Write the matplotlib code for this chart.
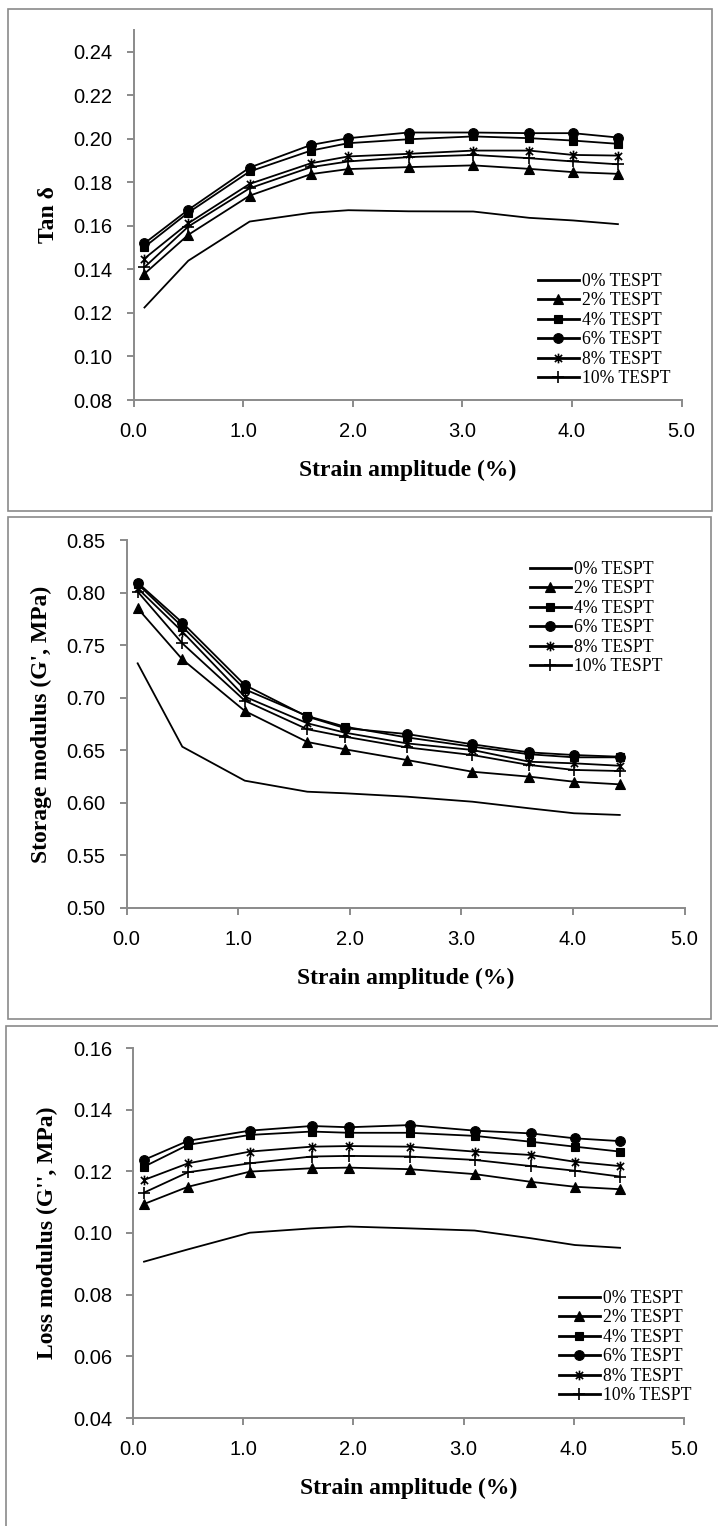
import matplotlib
matplotlib.use("Agg")
import matplotlib.pyplot as plt
from matplotlib.patches import Rectangle
from matplotlib.path import Path

# ---------------- data ----------------
strain = [0.10, 0.50, 1.06, 1.62, 1.96, 2.51, 3.10, 3.61, 4.01, 4.42]
series_labels = ["0% TESPT", "2% TESPT", "4% TESPT", "6% TESPT", "8% TESPT", "10% TESPT"]

tan_0 = [0.1225, 0.1440, 0.1620, 0.1660, 0.1672, 0.1667, 0.1666, 0.1637, 0.1625, 0.1608]
tan_2 = [0.1380, 0.1559, 0.1739, 0.1838, 0.1861, 0.1870, 0.1878, 0.1862, 0.1847, 0.1839]
tan_4 = [0.1503, 0.1661, 0.1850, 0.1946, 0.1980, 0.1998, 0.2011, 0.2003, 0.1992, 0.1977]
tan_6 = [0.1520, 0.1674, 0.1868, 0.1972, 0.2003, 0.2029, 0.2029, 0.2026, 0.2026, 0.2006]
tan_8 = [0.1450, 0.1612, 0.1793, 0.1888, 0.1919, 0.1931, 0.1946, 0.1946, 0.1926, 0.1923]
tan_10 = [0.1410, 0.1597, 0.1773, 0.1870, 0.1896, 0.1916, 0.1926, 0.1911, 0.1896, 0.1883]

gs_0 = [0.7327, 0.6534, 0.6211, 0.6106, 0.6091, 0.6059, 0.6011, 0.5948, 0.5901, 0.5885]
gs_2 = [0.7850, 0.7365, 0.6874, 0.6579, 0.6509, 0.6408, 0.6296, 0.6249, 0.6201, 0.6176]
gs_4 = [0.8082, 0.7676, 0.7080, 0.6826, 0.6724, 0.6623, 0.6534, 0.6462, 0.6433, 0.6433]
gs_6 = [0.8094, 0.7714, 0.7121, 0.6820, 0.6710, 0.6655, 0.6557, 0.6480, 0.6455, 0.6439]
gs_8 = [0.8041, 0.7628, 0.7010, 0.6757, 0.6667, 0.6566, 0.6503, 0.6391, 0.6376, 0.6353]
gs_10 = [0.8009, 0.7517, 0.6972, 0.6700, 0.6629, 0.6528, 0.6455, 0.6360, 0.6313, 0.6303]

gl_0 = [0.0907, 0.0947, 0.1001, 0.1015, 0.1021, 0.1015, 0.1008, 0.0983, 0.0961, 0.0952]
gl_2 = [0.1094, 0.1150, 0.1199, 0.1210, 0.1212, 0.1207, 0.1191, 0.1166, 0.1150, 0.1142]
gl_4 = [0.1215, 0.1286, 0.1318, 0.1329, 0.1325, 0.1325, 0.1315, 0.1296, 0.1280, 0.1264]
gl_6 = [0.1237, 0.1299, 0.1332, 0.1347, 0.1343, 0.1350, 0.1332, 0.1323, 0.1307, 0.1298]
gl_8 = [0.1172, 0.1226, 0.1264, 0.1280, 0.1282, 0.1280, 0.1264, 0.1253, 0.1231, 0.1217]
gl_10 = [0.1131, 0.1197, 0.1226, 0.1248, 0.1250, 0.1248, 0.1237, 0.1217, 0.1202, 0.1183]

x_ticks = [0.0, 1.0, 2.0, 3.0, 4.0, 5.0]
tan_ticks = [0.08, 0.10, 0.12, 0.14, 0.16, 0.18, 0.20, 0.22, 0.24]
gs_ticks = [0.50, 0.55, 0.60, 0.65, 0.70, 0.75, 0.80, 0.85]
gl_ticks = [0.04, 0.06, 0.08, 0.10, 0.12, 0.14, 0.16]

# ---------------- style ----------------
W, H = 718, 1526
fig = plt.figure(figsize=(W / 100, H / 100), dpi=100)
GRAY = "#8a8a8a"
SANS = ["Liberation Sans", "DejaVu Sans"]
SERIF = ["Liberation Serif", "DejaVu Serif"]

# Excel-style asterisk: an X plus a vertical stroke
asterisk = Path([(-1, -1), (1, 1), (-1, 1), (1, -1), (0, -1.35), (0, 1.35)],
                [Path.MOVETO, Path.LINETO, Path.MOVETO, Path.LINETO, Path.MOVETO, Path.LINETO])

markers = [None, "^", "s", "o", asterisk, "+"]
msizes = [0, 7, 6, 7, 7, 8.5]


def px_axes(l, t, r, b):
    return fig.add_axes([l / W, 1 - b / H, (r - l) / W, (b - t) / H])


def box(l, t, r, b):
    fig.patches.append(Rectangle((l / W, 1 - b / H), (r - l) / W, (b - t) / H,
                                 transform=fig.transFigure, fill=False,
                                 edgecolor=GRAY, linewidth=1.2))


def panel(rect, ys, ylim, yticks, ylabel, ylab_x, leg_xy, yfmt):
    l, t, r, b = rect
    ax = px_axes(l, t, r, b)
    for i, y in enumerate(ys):
        ax.plot(strain, y, color="black", linewidth=1.3,
                marker=markers[i] if markers[i] is not None else "None",
                markersize=msizes[i], markeredgewidth=1.2 if i >= 4 else 0.8,
                markerfacecolor="black", markeredgecolor="black",
                label=series_labels[i], clip_on=False)
    ax.set_xlim(0, 5)
    ax.set_ylim(*ylim)
    ax.set_xticks(x_ticks)
    ax.set_yticks(yticks)
    ax.set_xticklabels([f"{v:.1f}" for v in x_ticks], family=SANS, fontsize=14.5)
    ax.set_yticklabels([yfmt.format(v) for v in yticks], family=SANS, fontsize=14.5)
    for s in ["top", "right"]:
        ax.spines[s].set_visible(False)
    for s in ["left", "bottom"]:
        ax.spines[s].set_color(GRAY)
        ax.spines[s].set_linewidth(1.4)
    ax.tick_params(axis="both", direction="out", length=5, width=1.4, color=GRAY,
                   labelcolor="black")
    ax.tick_params(axis="y", pad=10)
    ax.tick_params(axis="x", pad=10.5)
    ax.set_xlabel("Strain amplitude (%)", family=SERIF, fontweight="bold", fontsize=17)
    ax.xaxis.set_label_coords(0.5, -70 / (b - t))
    ax.xaxis.label.set_va("center")
    ax.set_ylabel(ylabel, family=SERIF, fontweight="bold", fontsize=17)
    ax.yaxis.set_label_coords(-(l - ylab_x) / (r - l), 0.5)
    ax.yaxis.label.set_va("center")
    lx, ly = leg_xy
    leg = ax.legend(loc="upper left", bbox_to_anchor=(lx / W, 1 - ly / H),
                    bbox_transform=fig.transFigure, frameon=False,
                    prop={"family": SERIF, "size": 12.7}, handlelength=2.3,
                    handletextpad=0.2, labelspacing=0.14, borderpad=0,
                    borderaxespad=0, numpoints=1)
    for h in leg.legend_handles:
        h.set_linewidth(2.0)
    return ax


box(8, 9, 712, 511)
box(8, 517, 711, 1019)
box(6, 1026, 740, 1560)

panel((133.5, 30, 681.5, 400), [tan_0, tan_2, tan_4, tan_6, tan_8, tan_10],
      (0.08, 0.25), tan_ticks, "Tan δ", 48, (538, 273), "{:.2f}")
panel((126.5, 540, 684.5, 908), [gs_0, gs_2, gs_4, gs_6, gs_8, gs_10],
      (0.50, 0.85), gs_ticks, "Storage modulus (G', MPa)", 41, (530, 561), "{:.2f}")
panel((133, 1048, 684, 1418), [gl_0, gl_2, gl_4, gl_6, gl_8, gl_10],
      (0.04, 0.16), gl_ticks, "Loss modulus (G'', MPa)", 47, (559, 1290), "{:.2f}")

fig.savefig("out.png", dpi=100, facecolor="white")
